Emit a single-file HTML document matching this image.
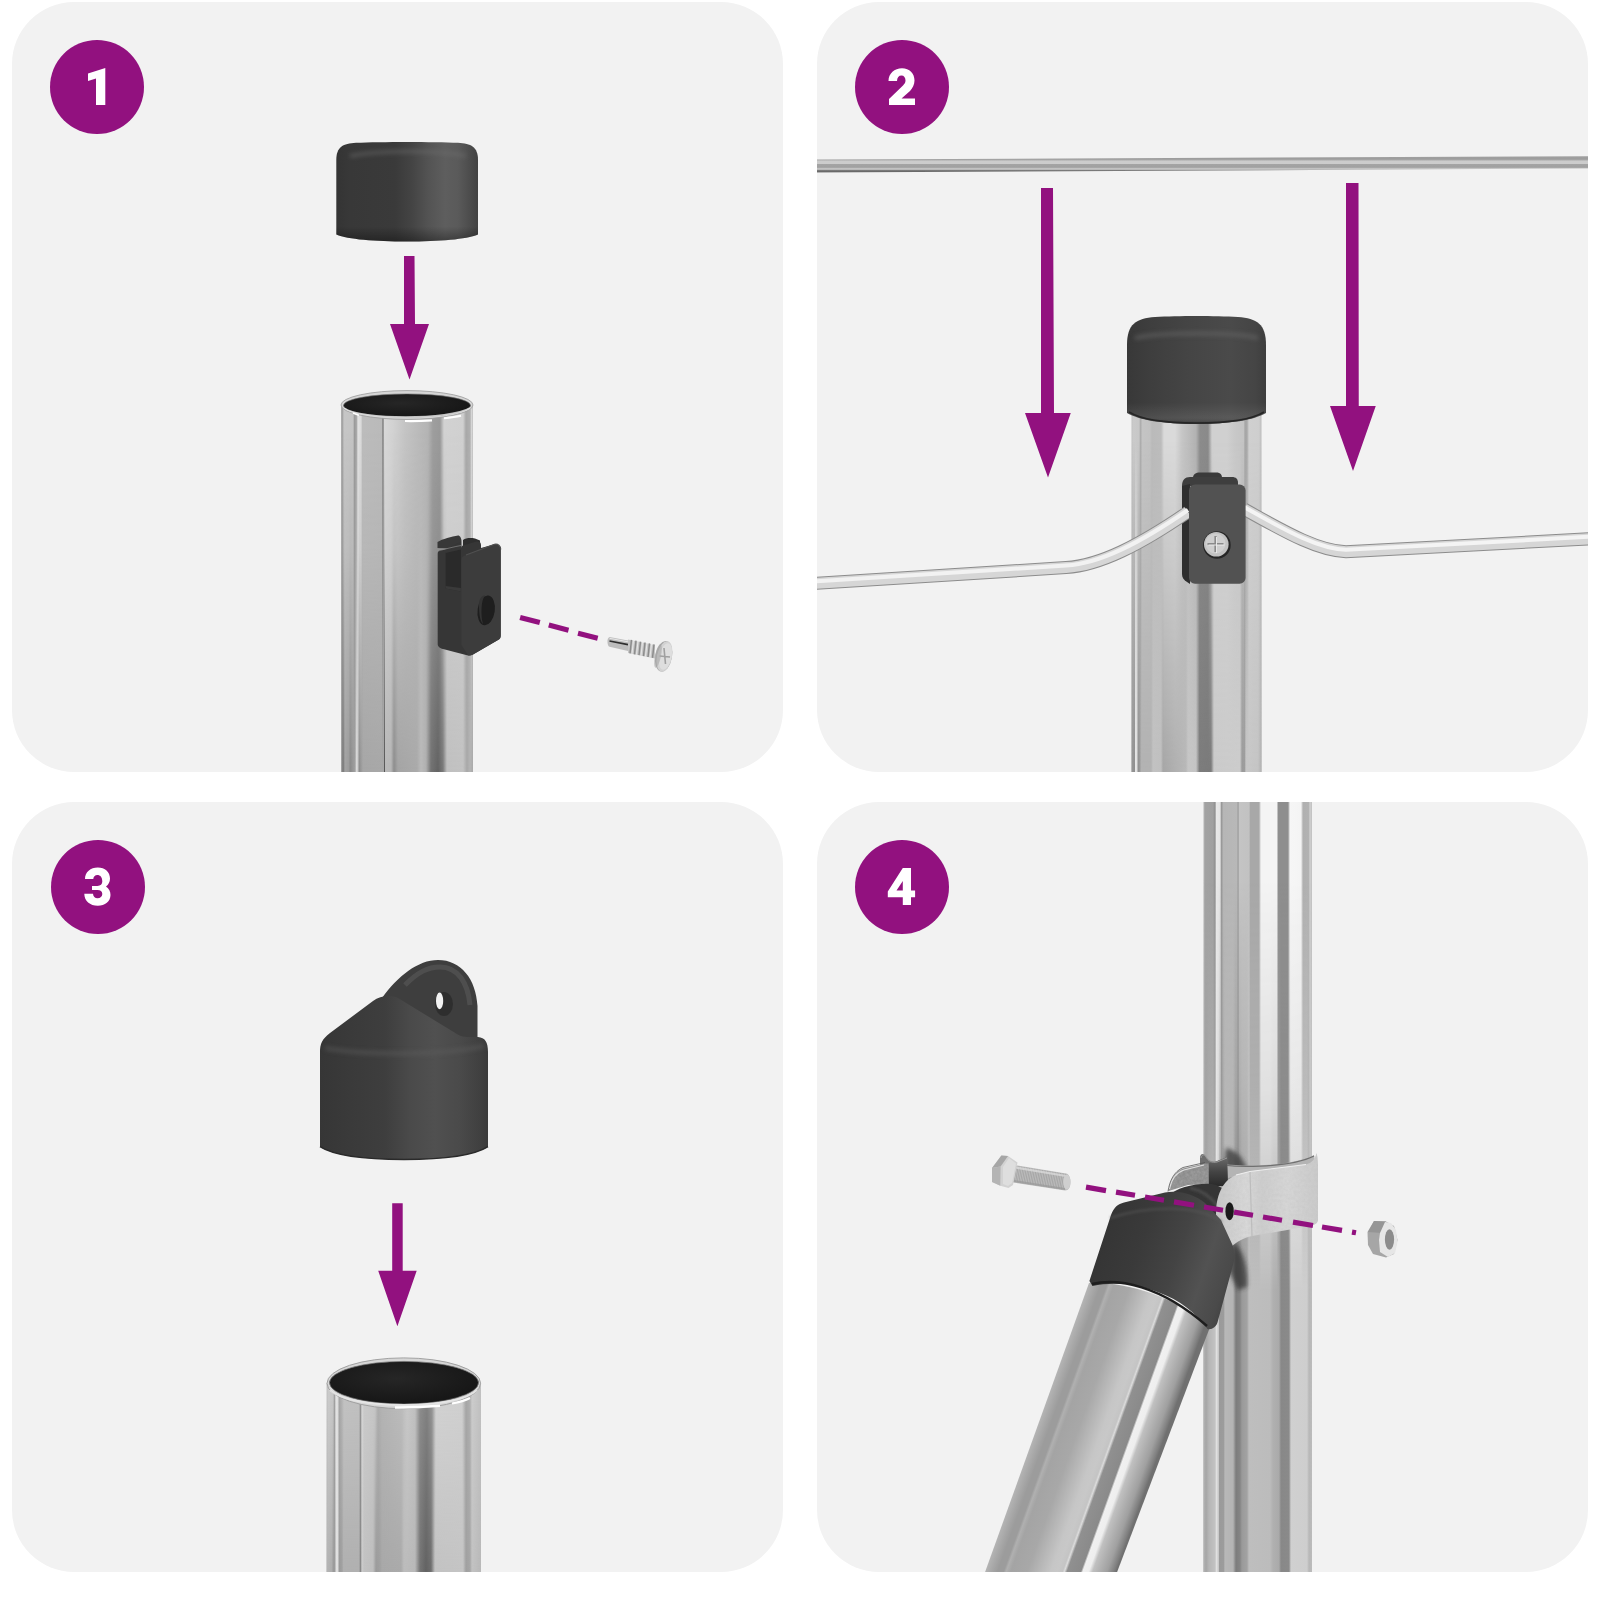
<!DOCTYPE html>
<html><head><meta charset="utf-8"><title>Assembly steps</title>
<style>
html,body{margin:0;padding:0;background:#ffffff;}
body{width:1600px;height:1600px;overflow:hidden;font-family:"Liberation Sans",sans-serif;}
svg{display:block;}
</style></head>
<body>
<svg width="1600" height="1600" viewBox="0 0 1600 1600">
<defs>
  <clipPath id="cp1"><rect x="12" y="2" width="771" height="770" rx="62" ry="62"/></clipPath>
  <clipPath id="cp2"><rect x="817" y="2" width="771" height="770" rx="62" ry="62"/></clipPath>
  <clipPath id="cp3"><rect x="12" y="802" width="771" height="770" rx="62" ry="62"/></clipPath>
  <clipPath id="cp4"><rect x="817" y="802" width="771" height="770" rx="62" ry="62"/></clipPath>
  <filter id="blur05" filterUnits="userSpaceOnUse" x="0" y="0" width="1600" height="1600"><feGaussianBlur stdDeviation="0.5"/></filter>
  <filter id="blur1" filterUnits="userSpaceOnUse" x="0" y="0" width="1600" height="1600"><feGaussianBlur stdDeviation="1"/></filter>
  <filter id="blur2" filterUnits="userSpaceOnUse" x="0" y="0" width="1600" height="1600"><feGaussianBlur stdDeviation="2"/></filter>
  <filter id="blur4" filterUnits="userSpaceOnUse" x="0" y="0" width="1600" height="1600"><feGaussianBlur stdDeviation="4"/></filter>
<linearGradient id="p1top" gradientUnits="userSpaceOnUse" x1="341" y1="0" x2="473" y2="0" ><stop offset="0.0000" stop-color="#b0b0b0"/><stop offset="0.0114" stop-color="#a4a4a4"/><stop offset="0.0227" stop-color="#c6c6c6"/><stop offset="0.0909" stop-color="#c4c4c4"/><stop offset="0.1023" stop-color="#9a9a9a"/><stop offset="0.1174" stop-color="#a8a8a8"/><stop offset="0.1288" stop-color="#e2e2e2"/><stop offset="0.1515" stop-color="#dadada"/><stop offset="0.1629" stop-color="#bcbcbc"/><stop offset="0.3068" stop-color="#bababa"/><stop offset="0.3182" stop-color="#7a7a7a"/><stop offset="0.3295" stop-color="#d8d8d8"/><stop offset="0.3939" stop-color="#d2d2d2"/><stop offset="0.4848" stop-color="#c4c4c4"/><stop offset="0.6591" stop-color="#b4b4b4"/><stop offset="0.6970" stop-color="#9e9e9e"/><stop offset="0.7500" stop-color="#9a9a9a"/><stop offset="0.7803" stop-color="#d2d2d2"/><stop offset="0.9242" stop-color="#d0d0d0"/><stop offset="0.9470" stop-color="#a8a8a8"/><stop offset="0.9773" stop-color="#b0b0b0"/><stop offset="0.9886" stop-color="#d6d6d6"/><stop offset="1.0000" stop-color="#c0c0c0"/></linearGradient>
<linearGradient id="p1bot" gradientUnits="userSpaceOnUse" x1="341" y1="0" x2="473" y2="0" ><stop offset="0.0000" stop-color="#b0b0b0"/><stop offset="0.0152" stop-color="#727272"/><stop offset="0.0303" stop-color="#a2a2a2"/><stop offset="0.0606" stop-color="#9a9a9a"/><stop offset="0.0682" stop-color="#888888"/><stop offset="0.1061" stop-color="#a0a0a0"/><stop offset="0.1174" stop-color="#dadada"/><stop offset="0.1288" stop-color="#c8c8c8"/><stop offset="0.1364" stop-color="#8a8a8a"/><stop offset="0.1667" stop-color="#a6a6a6"/><stop offset="0.3220" stop-color="#a8a8a8"/><stop offset="0.3295" stop-color="#555555"/><stop offset="0.3371" stop-color="#b8b8b8"/><stop offset="0.3788" stop-color="#b6b6b6"/><stop offset="0.4015" stop-color="#8c8c8c"/><stop offset="0.4318" stop-color="#a4a4a4"/><stop offset="0.5758" stop-color="#aaaaaa"/><stop offset="0.6061" stop-color="#bababa"/><stop offset="0.6439" stop-color="#b0b0b0"/><stop offset="0.6818" stop-color="#727272"/><stop offset="0.7348" stop-color="#636363"/><stop offset="0.7727" stop-color="#7a7a7a"/><stop offset="0.8030" stop-color="#c0c0c0"/><stop offset="0.9242" stop-color="#c2c2c2"/><stop offset="0.9545" stop-color="#a8a8a8"/><stop offset="0.9773" stop-color="#b4b4b4"/><stop offset="1.0000" stop-color="#a8a8a8"/></linearGradient>
<linearGradient id="p2" gradientUnits="userSpaceOnUse" x1="1131.5" y1="0" x2="1261.5" y2="0" ><stop offset="0.0000" stop-color="#969696"/><stop offset="0.0231" stop-color="#8e8e8e"/><stop offset="0.0308" stop-color="#e6e6e6"/><stop offset="0.0423" stop-color="#e0e0e0"/><stop offset="0.0500" stop-color="#8e8e8e"/><stop offset="0.0654" stop-color="#9a9a9a"/><stop offset="0.0731" stop-color="#b2b2b2"/><stop offset="0.1500" stop-color="#b2b2b2"/><stop offset="0.1654" stop-color="#c2c2c2"/><stop offset="0.2269" stop-color="#c0c0c0"/><stop offset="0.2423" stop-color="#a6a6a6"/><stop offset="0.4192" stop-color="#b8b8b8"/><stop offset="0.4346" stop-color="#c6c6c6"/><stop offset="0.4962" stop-color="#c4c4c4"/><stop offset="0.5231" stop-color="#7c7c7c"/><stop offset="0.6115" stop-color="#7a7a7a"/><stop offset="0.6346" stop-color="#cacaca"/><stop offset="0.8346" stop-color="#cccccc"/><stop offset="0.8500" stop-color="#9a9a9a"/><stop offset="0.8692" stop-color="#9c9c9c"/><stop offset="0.8808" stop-color="#c8c8c8"/><stop offset="0.9731" stop-color="#c4c4c4"/><stop offset="1.0000" stop-color="#b0b0b0"/></linearGradient>
<linearGradient id="p3" gradientUnits="userSpaceOnUse" x1="326.6" y1="0" x2="481" y2="0" ><stop offset="0.0000" stop-color="#b4b4b4"/><stop offset="0.0350" stop-color="#adadad"/><stop offset="0.0415" stop-color="#999999"/><stop offset="0.0544" stop-color="#9c9c9c"/><stop offset="0.0609" stop-color="#e0e0e0"/><stop offset="0.0738" stop-color="#dedede"/><stop offset="0.0803" stop-color="#999999"/><stop offset="0.0997" stop-color="#a0a0a0"/><stop offset="0.1095" stop-color="#b0b0b0"/><stop offset="0.2098" stop-color="#b0b0b0"/><stop offset="0.2196" stop-color="#888888"/><stop offset="0.2293" stop-color="#cccccc"/><stop offset="0.2422" stop-color="#c2c2c2"/><stop offset="0.3005" stop-color="#bebebe"/><stop offset="0.3199" stop-color="#9a9a9a"/><stop offset="0.3459" stop-color="#a0a0a0"/><stop offset="0.3588" stop-color="#a8a8a8"/><stop offset="0.4819" stop-color="#aaaaaa"/><stop offset="0.5013" stop-color="#bcbcbc"/><stop offset="0.5725" stop-color="#b8b8b8"/><stop offset="0.6049" stop-color="#747474"/><stop offset="0.6438" stop-color="#626262"/><stop offset="0.6762" stop-color="#6e6e6e"/><stop offset="0.7021" stop-color="#c2c2c2"/><stop offset="0.8834" stop-color="#c4c4c4"/><stop offset="0.9028" stop-color="#a0a0a0"/><stop offset="0.9288" stop-color="#a6a6a6"/><stop offset="0.9417" stop-color="#c2c2c2"/><stop offset="1.0000" stop-color="#b8b8b8"/></linearGradient>
<linearGradient id="p4top" gradientUnits="userSpaceOnUse" x1="1203.5" y1="0" x2="1312" y2="0" ><stop offset="0.0000" stop-color="#b4b4b4"/><stop offset="0.0184" stop-color="#a2a2a2"/><stop offset="0.0876" stop-color="#a0a0a0"/><stop offset="0.1060" stop-color="#909090"/><stop offset="0.1198" stop-color="#e8e8e8"/><stop offset="0.1521" stop-color="#e4e4e4"/><stop offset="0.1659" stop-color="#999999"/><stop offset="0.1843" stop-color="#b6b6b6"/><stop offset="0.3088" stop-color="#b8b8b8"/><stop offset="0.3180" stop-color="#9a9a9a"/><stop offset="0.3318" stop-color="#c4c4c4"/><stop offset="0.4194" stop-color="#c2c2c2"/><stop offset="0.4332" stop-color="#a8a8a8"/><stop offset="0.5115" stop-color="#a8a8a8"/><stop offset="0.5300" stop-color="#f4f4f4"/><stop offset="0.6728" stop-color="#f4f4f4"/><stop offset="0.6912" stop-color="#8e8e8e"/><stop offset="0.7788" stop-color="#8e8e8e"/><stop offset="0.7972" stop-color="#f6f6f6"/><stop offset="0.8986" stop-color="#f4f4f4"/><stop offset="0.9171" stop-color="#b0b0b0"/><stop offset="0.9677" stop-color="#b2b2b2"/><stop offset="0.9816" stop-color="#d0d0d0"/><stop offset="1.0000" stop-color="#c0c0c0"/></linearGradient>
<linearGradient id="p4bot" gradientUnits="userSpaceOnUse" x1="1204.4" y1="0" x2="1312.2" y2="0" ><stop offset="0.0000" stop-color="#b0b0b0"/><stop offset="0.0148" stop-color="#a6a6a6"/><stop offset="0.0427" stop-color="#b6b6b6"/><stop offset="0.0983" stop-color="#c2c2c2"/><stop offset="0.1122" stop-color="#e0e0e0"/><stop offset="0.1308" stop-color="#c8c8c8"/><stop offset="0.1401" stop-color="#9a9a9a"/><stop offset="0.1772" stop-color="#9c9c9c"/><stop offset="0.1911" stop-color="#b8b8b8"/><stop offset="0.2653" stop-color="#b4b4b4"/><stop offset="0.2931" stop-color="#7c7c7c"/><stop offset="0.3302" stop-color="#858585"/><stop offset="0.3488" stop-color="#9a9a9a"/><stop offset="0.3952" stop-color="#a2a2a2"/><stop offset="0.4137" stop-color="#bebebe"/><stop offset="0.6085" stop-color="#bcbcbc"/><stop offset="0.6364" stop-color="#b0b0b0"/><stop offset="0.6920" stop-color="#aaaaaa"/><stop offset="0.7106" stop-color="#888888"/><stop offset="0.7848" stop-color="#8a8a8a"/><stop offset="0.8033" stop-color="#d0d0d0"/><stop offset="0.9518" stop-color="#cecece"/><stop offset="0.9703" stop-color="#b8b8b8"/><stop offset="1.0000" stop-color="#bcbcbc"/></linearGradient>
<linearGradient id="vmask1" gradientUnits="userSpaceOnUse" x1="0" y1="430" x2="0" y2="772"><stop offset="0" stop-color="#000"/><stop offset="0.35" stop-color="#333"/><stop offset="1" stop-color="#fff"/></linearGradient>
<mask id="m1" maskUnits="userSpaceOnUse" x="330" y="380" width="160" height="400"><rect x="330" y="380" width="160" height="400" fill="url(#vmask1)"/></mask>
<linearGradient id="vmask4" gradientUnits="userSpaceOnUse" x1="0" y1="880" x2="0" y2="1290"><stop offset="0" stop-color="#000"/><stop offset="0.5" stop-color="#555"/><stop offset="1" stop-color="#fff"/></linearGradient>
<mask id="m4" maskUnits="userSpaceOnUse" x="1190" y="800" width="140" height="780"><rect x="1190" y="800" width="140" height="780" fill="url(#vmask4)"/></mask>
<linearGradient id="cap1" gradientUnits="userSpaceOnUse" x1="336" y1="0" x2="478" y2="0" ><stop offset="0.0000" stop-color="#343434"/><stop offset="0.0986" stop-color="#383838"/><stop offset="0.4155" stop-color="#3a3a3a"/><stop offset="0.5352" stop-color="#444444"/><stop offset="0.6479" stop-color="#535353"/><stop offset="0.7676" stop-color="#5e5e5e"/><stop offset="0.8592" stop-color="#5a5a5a"/><stop offset="0.9437" stop-color="#4c4c4c"/><stop offset="1.0000" stop-color="#424242"/></linearGradient>
<linearGradient id="cap2" gradientUnits="userSpaceOnUse" x1="1127" y1="0" x2="1266" y2="0" ><stop offset="0.0000" stop-color="#383838"/><stop offset="0.1655" stop-color="#3e3e3e"/><stop offset="0.4532" stop-color="#454545"/><stop offset="0.7410" stop-color="#4a4a4a"/><stop offset="0.9209" stop-color="#454545"/><stop offset="1.0000" stop-color="#3e3e3e"/></linearGradient>
<linearGradient id="cap3" gradientUnits="userSpaceOnUse" x1="320" y1="0" x2="488" y2="0" ><stop offset="0.0000" stop-color="#363636"/><stop offset="0.1786" stop-color="#3a3a3a"/><stop offset="0.3869" stop-color="#3e3e3e"/><stop offset="0.5357" stop-color="#4a4a4a"/><stop offset="0.6845" stop-color="#505050"/><stop offset="0.8333" stop-color="#4a4a4a"/><stop offset="0.9524" stop-color="#404040"/><stop offset="1.0000" stop-color="#3a3a3a"/></linearGradient>
<linearGradient id="capshade" x1="0" y1="0" x2="0" y2="1"><stop offset="0" stop-color="#000" stop-opacity="0"/><stop offset="0.85" stop-color="#000" stop-opacity="0"/><stop offset="1" stop-color="#000" stop-opacity="0.35"/></linearGradient>
<linearGradient id="wire" x1="0" y1="0" x2="0" y2="1"><stop offset="0" stop-color="#a0a0a0"/><stop offset="0.18" stop-color="#9c9c9c"/><stop offset="0.3" stop-color="#cccccc"/><stop offset="0.45" stop-color="#cccccc"/><stop offset="0.5" stop-color="#a4a4a4"/><stop offset="0.68" stop-color="#a0a0a0"/><stop offset="0.74" stop-color="#c4c4c4"/><stop offset="0.82" stop-color="#b8b8b8"/><stop offset="0.9" stop-color="#606060"/><stop offset="1" stop-color="#7a7a7a"/></linearGradient>
<linearGradient id="pdiag" gradientUnits="userSpaceOnUse" x1="985" y1="1572" x2="1101" y2="1613.8"><stop offset="0" stop-color="#b4b4b4"/><stop offset="0.054" stop-color="#a6a6a6"/><stop offset="0.094" stop-color="#9c9c9c"/><stop offset="0.14" stop-color="#9c9c9c"/><stop offset="0.16" stop-color="#b0b0b0"/><stop offset="0.195" stop-color="#a4a4a4"/><stop offset="0.32" stop-color="#a8a8a8"/><stop offset="0.5" stop-color="#c6c6c6"/><stop offset="0.55" stop-color="#c8c8c8"/><stop offset="0.59" stop-color="#c4c4c4"/><stop offset="0.605" stop-color="#dcdcdc"/><stop offset="0.625" stop-color="#909090"/><stop offset="0.73" stop-color="#8a8a8a"/><stop offset="0.745" stop-color="#f0f0f0"/><stop offset="0.79" stop-color="#eeeeee"/><stop offset="0.82" stop-color="#c0c0c0"/><stop offset="0.93" stop-color="#a0a0a0"/><stop offset="0.98" stop-color="#808080"/><stop offset="1" stop-color="#707070"/></linearGradient>
<linearGradient id="cap4" gradientUnits="userSpaceOnUse" x1="1090" y1="1250" x2="1235" y2="1300"><stop offset="0" stop-color="#343434"/><stop offset="0.3" stop-color="#3a3a3a"/><stop offset="0.55" stop-color="#444444"/><stop offset="0.75" stop-color="#525252"/><stop offset="0.9" stop-color="#4a4a4a"/><stop offset="1" stop-color="#3c3c3c"/></linearGradient>
<linearGradient id="clampg" x1="0" y1="0" x2="1" y2="0"><stop offset="0" stop-color="#c8c8c8"/><stop offset="0.3" stop-color="#d8d8d8"/><stop offset="0.45" stop-color="#cdcdcd"/><stop offset="0.7" stop-color="#d6d6d6"/><stop offset="1" stop-color="#cacaca"/></linearGradient>
<filter id="noise" x="0" y="0" width="100%" height="100%"><feTurbulence type="fractalNoise" baseFrequency="0.35" numOctaves="2" seed="3"/><feColorMatrix type="matrix" values="0 0 0 0 0.5  0 0 0 0 0.5  0 0 0 0 0.5  0 0 0 -1.2 0.9"/><feComposite in2="SourceGraphic" operator="in"/></filter>
<linearGradient id="p2top" gradientUnits="userSpaceOnUse" x1="1131.5" y1="0" x2="1261.5" y2="0" ><stop offset="0.0000" stop-color="#c0c0c0"/><stop offset="0.0115" stop-color="#cacaca"/><stop offset="0.0577" stop-color="#c8c8c8"/><stop offset="0.0692" stop-color="#adadad"/><stop offset="0.0846" stop-color="#c4c4c4"/><stop offset="0.1423" stop-color="#c2c2c2"/><stop offset="0.1577" stop-color="#bababa"/><stop offset="0.2269" stop-color="#bcbcbc"/><stop offset="0.2500" stop-color="#dadada"/><stop offset="0.3346" stop-color="#dadada"/><stop offset="0.3885" stop-color="#c6c6c6"/><stop offset="0.4962" stop-color="#b2b2b2"/><stop offset="0.5269" stop-color="#8c8c8c"/><stop offset="0.5885" stop-color="#8a8a8a"/><stop offset="0.6192" stop-color="#d0d0d0"/><stop offset="0.7346" stop-color="#d0d0d0"/><stop offset="0.7962" stop-color="#c8c8c8"/><stop offset="0.8615" stop-color="#c4c4c4"/><stop offset="0.8731" stop-color="#a6a6a6"/><stop offset="0.8885" stop-color="#a8a8a8"/><stop offset="0.9038" stop-color="#d0d0d0"/><stop offset="0.9808" stop-color="#cecece"/><stop offset="1.0000" stop-color="#bcbcbc"/></linearGradient>
<linearGradient id="vmask2" gradientUnits="userSpaceOnUse" x1="0" y1="440" x2="0" y2="772"><stop offset="0" stop-color="#000"/><stop offset="1" stop-color="#fff"/></linearGradient>
<mask id="m2" maskUnits="userSpaceOnUse" x="1120" y="380" width="160" height="400"><rect x="1120" y="380" width="160" height="400" fill="url(#vmask2)"/></mask>
<linearGradient id="cap2v" x1="0" y1="0" x2="0" y2="1"><stop offset="0" stop-color="#000" stop-opacity="0"/><stop offset="0.8" stop-color="#fff" stop-opacity="0"/><stop offset="0.93" stop-color="#fff" stop-opacity="0.08"/><stop offset="1" stop-color="#000" stop-opacity="0.25"/></linearGradient>
<linearGradient id="p3top" gradientUnits="userSpaceOnUse" x1="326.6" y1="0" x2="481" y2="0" ><stop offset="0.0000" stop-color="#b8b8b8"/><stop offset="0.0091" stop-color="#cacaca"/><stop offset="0.0415" stop-color="#c6c6c6"/><stop offset="0.0512" stop-color="#a0a0a0"/><stop offset="0.0609" stop-color="#e4e4e4"/><stop offset="0.0738" stop-color="#dcdcdc"/><stop offset="0.0803" stop-color="#a4a4a4"/><stop offset="0.0997" stop-color="#b4b4b4"/><stop offset="0.1127" stop-color="#c2c2c2"/><stop offset="0.2098" stop-color="#c0c0c0"/><stop offset="0.2196" stop-color="#949494"/><stop offset="0.2293" stop-color="#d8d8d8"/><stop offset="0.2422" stop-color="#cacaca"/><stop offset="0.3135" stop-color="#c6c6c6"/><stop offset="0.3329" stop-color="#adadad"/><stop offset="0.3588" stop-color="#b4b4b4"/><stop offset="0.4883" stop-color="#bcbcbc"/><stop offset="0.5207" stop-color="#c8c8c8"/><stop offset="0.5725" stop-color="#c0c0c0"/><stop offset="0.6049" stop-color="#8e8e8e"/><stop offset="0.6503" stop-color="#828282"/><stop offset="0.6826" stop-color="#969696"/><stop offset="0.7085" stop-color="#d2d2d2"/><stop offset="0.8769" stop-color="#d0d0d0"/><stop offset="0.9028" stop-color="#a6a6a6"/><stop offset="0.9288" stop-color="#b0b0b0"/><stop offset="0.9417" stop-color="#cccccc"/><stop offset="1.0000" stop-color="#c0c0c0"/></linearGradient>
<linearGradient id="vmask3" gradientUnits="userSpaceOnUse" x1="0" y1="1400" x2="0" y2="1572"><stop offset="0" stop-color="#000"/><stop offset="1" stop-color="#fff"/></linearGradient>
<mask id="m3" maskUnits="userSpaceOnUse" x="320" y="1370" width="170" height="210"><rect x="320" y="1370" width="170" height="210" fill="url(#vmask3)"/></mask>
<radialGradient id="holeg" cx="0.45" cy="0.4" r="0.6"><stop offset="0" stop-color="#262626"/><stop offset="1" stop-color="#161616"/></radialGradient>
<linearGradient id="innerg" x1="0" y1="0" x2="0" y2="1"><stop offset="0" stop-color="#6a6a6a"/><stop offset="0.5" stop-color="#444"/><stop offset="1" stop-color="#2a2a2a"/></linearGradient>
</defs>
<rect width="1600" height="1600" fill="#ffffff"/>
<rect x="12" y="2" width="771" height="770" rx="62" ry="62" fill="#f2f2f2"/>
<rect x="817" y="2" width="771" height="770" rx="62" ry="62" fill="#f2f2f2"/>
<rect x="12" y="802" width="771" height="770" rx="62" ry="62" fill="#f2f2f2"/>
<rect x="817" y="802" width="771" height="770" rx="62" ry="62" fill="#f2f2f2"/>

<g id="panel1">
  <!-- cap -->
  <path d="M336.3,160 C336.3,147 343,143.5 356,142.8 C380,141.6 434,141.6 458,142.8 C471,143.5 478,147 478,160 L478,234.6 C466,239.5 440,241.6 407,241.6 C374,241.6 348,239.5 336.3,234.6 Z" fill="url(#cap1)"/>
  <path d="M336.3,160 C336.3,147 343,143.5 356,142.8 C380,141.6 434,141.6 458,142.8 C471,143.5 478,147 478,160 L478,234.6 C466,239.5 440,241.6 407,241.6 C374,241.6 348,239.5 336.3,234.6 Z" fill="url(#capshade)"/>
  <path d="M350,156 C380,150 440,150 466,156" fill="none" stroke="#707070" stroke-width="4" opacity="0.45" filter="url(#blur2)"/>
  <!-- arrow -->
  <path d="M404,256 L414.5,256 L415,324 L429,324 L409.5,379.5 L390,324 L404,324 Z" fill="#92117f"/>
  <!-- pipe -->
  <g clip-path="url(#cp1)">
    <rect x="341" y="405" width="132" height="370" fill="url(#p1top)"/>
    <rect x="341" y="405" width="132" height="370" fill="url(#p1bot)" mask="url(#m1)"/>
  </g>
  <ellipse cx="407" cy="405" rx="66" ry="14.4" fill="#d6d6d6" stroke="#9a9a9a" stroke-width="0.8"/>
  <ellipse cx="407" cy="405.5" rx="63.5" ry="11.6" fill="url(#holeg)" stroke="#707070" stroke-width="0.6"/>
  <path d="M344,408 C360,420 450,420 470,408" fill="none" stroke="#e6e6e6" stroke-width="1.5" opacity="0.8"/>
  <path d="M405,421 C415,421.2 425,420.8 432,420.3" fill="none" stroke="#ffffff" stroke-width="2.2"/>
  <path d="M444,418.3 C450,417.6 456,416.8 461,415.8" fill="none" stroke="#ffffff" stroke-width="2"/>
  <path d="M353,413 C355,414 357,414.6 359,415.2" fill="none" stroke="#ffffff" stroke-width="1.6"/>
</g>

<g id="clip1">
  <!-- saddle top -->
  <path d="M437.5,548 L437.5,542 C442,539 452,536.5 458,535.5 C460,535.5 461.5,538 461.5,542 L461.5,550 Z" fill="#383838"/>
  <path d="M463,548 L463,540 C466,538 470,537.5 475,538.5 L480,540.5 L480,550 Z" fill="#2e2e2e"/>
  <!-- body -->
  <path d="M440,550 C438.5,550.5 437.7,552 437.7,554 L437.7,644 C437.7,646.5 440,648.5 443,649 L467,655.3 C469,655.8 471,655.6 473,654.6 L498,640 C500,639 500.7,637.5 500.7,635.5 L500.7,549.5 C500.7,546 498,543.5 494.5,544.3 L481,548 L481,545 C481,542 479,541 476.5,541.5 L463,545.5 C461.5,546 461,547 461,548.5 L461,541.5 L446,549 Z" fill="#363636"/>
  <!-- front face slightly lighter -->
  <path d="M461.5,560 C461.5,557 463,556 466,555 L494.5,544.3 C498,543.5 500.7,546 500.7,549.5 L500.7,635.5 C500.7,637.5 500,639 498,640 L473,654.6 C471,655.6 469.5,655.6 468,655.3 L466,652 L461.5,645 Z" fill="#3c3c3c"/>
  <path d="M466,555 L494.5,544.3 C498,543.5 500.7,546 500.7,549.5" fill="none" stroke="#505050" stroke-width="1.2"/>
  <!-- notch channel -->
  <path d="M445.6,553 L460.9,549.5 L460.9,591.5 L445.6,588.5 Z" fill="#2a2a2a"/>
  <path d="M445.6,586 L460.9,588 L460.9,591.5 L445.6,588.5 Z" fill="#3a3a3a"/>
  <path d="M438,551 C445,549 455,546.5 461,545.5" fill="none" stroke="#9a9a9a" stroke-width="0.8" opacity="0.7"/>
  <!-- hole -->
  <ellipse cx="486.2" cy="610.3" rx="8.6" ry="15" transform="rotate(8 486.2 610.3)" fill="#1e1e1e"/>
  <path d="M479,605 C479,598 482,595.5 485,595.5 C481,600 480.5,615 483,624 C480,621 479,614 479,605 Z" fill="#333"/>
</g>
<!-- dashes -->
<g stroke="#92117f" stroke-width="5.2" stroke-linecap="butt">
  <line x1="520.1" y1="617.4" x2="539.8" y2="622.5"/>
  <line x1="548.8" y1="625.1" x2="568.5" y2="630.2"/>
  <line x1="578" y1="633.3" x2="597.7" y2="638.2"/>
</g>
<!-- screw -->
<g id="screw1">
  <path d="M609.5,637 L628,640.5 L628,651 L609.5,646.8 C607,646 606.5,638 609.5,637 Z" fill="#bdbdbd"/>
  <path d="M609.5,641 L628,644.6" stroke="#2e2e2e" stroke-width="1.6"/>
  <path d="M609.5,638.3 L628,641.8" stroke="#e6e6e6" stroke-width="1"/>
  <path d="M628,639.4 L655,645 L655,658.5 L628,652.9 Z" fill="#c6c6c6"/>
  <g stroke="#8c8c8c" stroke-width="1.5">
    <line x1="631.5" y1="639.8" x2="630" y2="653.4"/>
    <line x1="636" y1="640.7" x2="634.5" y2="654.3"/>
    <line x1="640.5" y1="641.6" x2="639" y2="655.2"/>
    <line x1="645" y1="642.5" x2="643.5" y2="656.1"/>
    <line x1="649.5" y1="643.4" x2="648" y2="657"/>
    <line x1="654" y1="644.3" x2="652.5" y2="657.9"/>
  </g>
  <g stroke="#ececec" stroke-width="0.9">
    <line x1="633.5" y1="640.2" x2="632" y2="653.8"/>
    <line x1="638" y1="641.1" x2="636.5" y2="654.7"/>
    <line x1="642.5" y1="642" x2="641" y2="655.6"/>
    <line x1="647" y1="642.9" x2="645.5" y2="656.5"/>
    <line x1="651.5" y1="643.8" x2="650" y2="657.4"/>
  </g>
  <ellipse cx="663.6" cy="656.3" rx="8.4" ry="15.5" transform="rotate(10 663.6 656.3)" fill="#a8a8a8"/>
  <ellipse cx="664.6" cy="656.3" rx="7" ry="14" transform="rotate(10 664.6 656.3)" fill="#d6d6d6"/>
  <path d="M664.7,647 L665.8,667.5 M660.7,657.4 L669.2,655.1" stroke="#8e8e8e" stroke-width="1.8"/>
  <path d="M665.6,647.5 L666.6,667 M661,658.4 L669.5,656.1" stroke="#f0f0f0" stroke-width="0.7"/>
</g>
  <ellipse cx="664.5" cy="656.5" rx="7.5" ry="15.5" transform="rotate(12 664.5 656.5)" fill="#d2d2d2"/>
  <ellipse cx="665.5" cy="656.5" rx="6" ry="13.5" transform="rotate(12 665.5 656.5)" fill="#dedede"/>
  <path d="M664,648 L665.5,664 M659.5,656 L670,657" stroke="#a0a0a0" stroke-width="1.6"/>
  <ellipse cx="658" cy="656" rx="3" ry="12" transform="rotate(12 658 656)" fill="#a8a8a8" opacity="0.6"/>
</g>

<g id="panel2">
  <!-- top wire -->
  <path d="M817,159.5 L1588,156.3 L1588,168.5 L817,172.5 Z" fill="url(#wire)"/>
  <!-- arrows -->
  <path d="M1041,188 L1053,188 L1054,413 L1070.75,413 L1048,477.5 L1025,413 L1041,413 Z" fill="#92117f"/>
  <path d="M1346,183 L1358.5,183 L1358.75,406 L1375.75,406 L1353,471 L1330,406 L1346,406 Z" fill="#92117f"/>
  <!-- pipe -->
  <g clip-path="url(#cp2)">
    <rect x="1131.5" y="400" width="130" height="375" fill="url(#p2top)"/>
    <rect x="1131.5" y="400" width="130" height="375" fill="url(#p2)" mask="url(#m2)"/>
  </g>
  <!-- cap -->
  <path d="M1127,345 C1127,324 1136,318.5 1155,317 C1178,315.6 1215,315.6 1238,317 C1257,318.5 1266,324 1266,345 L1266,413 C1254,420 1230,424 1196.5,424 C1163,424 1139,420 1127,413 Z" fill="url(#cap2)"/>
  <path d="M1127,345 C1127,324 1136,318.5 1155,317 C1178,315.6 1215,315.6 1238,317 C1257,318.5 1266,324 1266,345 L1266,413 C1254,420 1230,424 1196.5,424 C1163,424 1139,420 1127,413 Z" fill="url(#cap2v)"/>
  <path d="M1135,338 C1160,332 1235,332 1258,338" fill="none" stroke="#6a6a6a" stroke-width="4" opacity="0.55" filter="url(#blur2)"/>
  <path d="M1129,412 C1141,419.5 1164,423 1196.5,423 C1229,423 1252,419.5 1264,412" fill="none" stroke="#262626" stroke-width="1.5"/>
  <!-- clip 2 back -->
  <path d="M1193,478 C1193,474 1196,472.5 1200,472.5 L1216,472.5 C1221,472.5 1222,475 1222,478 Z" fill="#3a3a3a"/>
  <path d="M1182,486 C1182,480 1185,477 1190,477 L1232,477 C1236,477 1238,479 1238,483 L1238,486 Z" fill="#3e3e3e"/>
  <path d="M1182,486 L1190,484 L1190,584 L1187,582 C1184,580 1182,578 1182,574 Z" fill="#2e2e2e"/>
  <!-- lower wires -->
  <g clip-path="url(#cp2)" fill="none" stroke-linecap="butt">
    <path d="M810,583.7 L1066,567.6 C1100,565.5 1140,545 1188,512" stroke="#8c8c8c" stroke-width="13"/>
    <path d="M810,583.7 L1066,567.6 C1100,565.5 1140,545 1188,512" stroke="#d6d6d6" stroke-width="11"/>
    <path d="M810,581.7 L1066,565.6 C1100,563.5 1140,543 1188,510" stroke="#f2f2f2" stroke-width="4"/>
    <path d="M1244,509 C1290,535 1320,551 1346,551.7 L1595,538.5" stroke="#8c8c8c" stroke-width="13"/>
    <path d="M1244,509 C1290,535 1320,551 1346,551.7 L1595,538.5" stroke="#d6d6d6" stroke-width="11"/>
    <path d="M1244,507 C1290,533 1320,549 1346,549.7 L1595,536.5" stroke="#f4f4f4" stroke-width="4"/>
  </g>
  <!-- clip 2 -->
  <rect x="1189" y="484.5" width="56.6" height="99.3" rx="6" ry="6" fill="#525252"/>
  <circle cx="1216.9" cy="545" r="13.8" fill="#262626"/>
  <circle cx="1216.3" cy="544.3" r="12.3" fill="#c2c2c2"/>
  <circle cx="1215.5" cy="543.5" r="10" fill="#cfcfcf"/>
  <path d="M1215.5,536 L1215.5,552 M1207.5,544 L1223.5,544" stroke="#8a8a8a" stroke-width="2.2"/>
  <path d="M1216.5,537 L1216.5,553 M1208.5,545 L1224.5,545" stroke="#eeeeee" stroke-width="0.9"/>
</g>

<g id="panel3">
  <!-- eyelet -->
  <path d="M382,998 C398,976 418,960 438,960 C461,960 476,979 477.5,1006 L477.5,1040 L460,1040 L395,1000 Z" fill="#3e3e3e"/>
  <path d="M405,985 C418,972 428,967 440,967 C458,967 468,983 470,1005" fill="none" stroke="#5a5a5a" stroke-width="5" opacity="0.6"/>
  <ellipse cx="444" cy="1004" rx="9" ry="12" fill="#2a2a2a" opacity="0.8"/>
  <ellipse cx="439.6" cy="1000.9" rx="3.6" ry="8.3" fill="#f2f2f2"/>
  <!-- dome + body -->
  <path d="M320,1052 C320,1044 322,1039 330,1033 L373,1001 C380,996 390,994.5 398,998 L452,1031 C457,1034 461,1037 467,1037 L478,1037 C485,1037.5 488,1042 488,1052 L488,1146.7 C475,1155 445,1159.5 404,1159.5 C363,1159.5 333,1155 320,1146.7 Z" fill="url(#cap3)"/>
  <path d="M320,1052 C320,1044 322,1039 330,1033 L373,1001 C380,996 390,994.5 398,998 L452,1031 C457,1034 461,1037 467,1037 L478,1037 C485,1037.5 488,1042 488,1052 L488,1146.7 C475,1155 445,1159.5 404,1159.5 C363,1159.5 333,1155 320,1146.7 Z" fill="none" stroke="#262626" stroke-width="0"/>
  <path d="M320,1146.7 C333,1155 363,1159.5 404,1159.5 C445,1159.5 475,1155 488,1146.7" fill="none" stroke="#2a2a2a" stroke-width="1.5"/>
  <path d="M325,1048 C360,1055 440,1056 484,1046" fill="none" stroke="#5e5e5e" stroke-width="4" opacity="0.5" filter="url(#blur2)"/>
  <!-- arrow -->
  <path d="M392.2,1203.2 L402.7,1203.2 L402.7,1270.7 L416.7,1270.7 L397.4,1326.2 L378.2,1270.7 L392.2,1270.7 Z" fill="#92117f"/>
  <!-- pipe -->
  <g clip-path="url(#cp3)">
    <rect x="326.6" y="1383" width="154.4" height="195" fill="url(#p3top)"/>
    <rect x="326.6" y="1383" width="154.4" height="195" fill="url(#p3)" mask="url(#m3)"/>
  </g>
  <ellipse cx="403.8" cy="1383.3" rx="76.8" ry="25.4" fill="#d6d6d6" stroke="#9a9a9a" stroke-width="0.9"/>
  <ellipse cx="404" cy="1382.7" rx="74.5" ry="21.3" fill="url(#holeg)" stroke="#707070" stroke-width="0.7"/>
  <path d="M330,1390 C350,1410 458,1410 477,1390" fill="none" stroke="#e8e8e8" stroke-width="1.8" opacity="0.8"/>
  <path d="M395,1407.5 C410,1407.6 425,1407 440,1405.8" fill="none" stroke="#ffffff" stroke-width="2.5" filter="url(#blur05)"/>
  <path d="M452,1403.5 C460,1402 466,1400 470,1398" fill="none" stroke="#ffffff" stroke-width="2" filter="url(#blur05)"/>
</g>

<g id="panel4">
  <!-- vertical pipe -->
  <g clip-path="url(#cp4)" filter="url(#blur05)">
    <rect x="1203.5" y="800" width="108.5" height="775" fill="url(#p4top)"/>
    <rect x="1203.5" y="800" width="108.5" height="775" fill="url(#p4bot)" mask="url(#m4)"/>
  </g>
  <!-- clamp back rim / tab -->
  <path d="M1226,1148 C1236,1150 1244,1158 1248,1172 L1230,1180 L1224,1165 Z" fill="#3c3c3c" opacity="0.8" filter="url(#blur2)"/>
  <path d="M1204,1160 C1225,1168 1290,1168 1314,1155 L1316,1168 L1210,1180 Z" fill="#b4b4b4"/>
  <path d="M1208,1162 C1230,1169 1290,1168 1314,1156" fill="none" stroke="#707070" stroke-width="1.3"/>
  <path d="M1200,1184 L1200,1158 C1200,1153.5 1203.5,1152.5 1205.5,1156 C1207.5,1160 1211,1162.5 1216,1161.5 L1227,1157 L1228,1186 Z" fill="#6e6e6e"/>
  <path d="M1209,1163 C1213,1163 1220,1160 1227,1157.5 L1228,1186 L1209,1186 Z" fill="url(#innerg)"/>
  <path d="M1201,1158 C1202,1154 1204.5,1154 1206,1157 C1208,1161 1212,1163 1217,1162 L1227,1158" fill="none" stroke="#9a9a9a" stroke-width="1"/>
  <path d="M1168.5,1191 C1170,1182 1174,1172 1183,1168.5 L1205,1163.5 L1208.5,1163.5 L1208.5,1184 L1188,1185 Z" fill="#8c8c8c"/>
  <path d="M1168.5,1191 C1170,1182 1174,1172 1183,1168.5 L1205,1163.5 L1208.5,1163.5 L1208.5,1184 L1188,1185 Z" fill="#666" filter="url(#noise)" opacity="0.5"/>
  <path d="M1169.5,1189 C1171,1181 1175,1173 1184,1170 L1204,1165" fill="none" stroke="#e0e0e0" stroke-width="1.1"/>
  <path d="M1168,1191.5 C1169.5,1181 1174,1171.5 1183,1167.5 L1205,1162.5" fill="none" stroke="#555" stroke-width="0.8"/>
  <!-- shadow on pipe right of cap -->
  <path d="M1230,1240 C1240,1245 1248,1260 1247,1287 L1238,1290 L1228,1270 Z" fill="#2a2a2a" opacity="0.7" filter="url(#blur2)"/>
  <!-- dark neck behind cap -->
  <path d="M1168,1196 C1176,1188 1195,1183 1212,1184 C1224,1186 1232,1196 1232,1210 L1230,1232 L1200,1205 Z" fill="#353535"/>
  <path d="M1190,1188 C1200,1190 1210,1196 1218,1206" fill="none" stroke="#4a4a4a" stroke-width="3" filter="url(#blur1)"/>
  <!-- front band -->
  <path d="M1216,1215 C1216,1196 1222,1181 1236,1175 L1250,1171.5 L1306,1164.5 C1312,1163 1315,1159 1316.5,1153 C1317.5,1156 1318,1160 1318,1165 L1318,1220 C1318,1223 1315,1225 1310,1226 L1252,1236 C1243,1238 1237,1242 1232,1246 C1224,1240 1216,1230 1216,1215 Z" fill="url(#clampg)"/>
  <path d="M1216,1215 C1216,1196 1222,1181 1236,1175 L1250,1171.5 L1306,1164.5 C1312,1163 1315,1159 1316.5,1153 C1317.5,1156 1318,1160 1318,1165 L1318,1220 C1318,1223 1315,1225 1310,1226 L1252,1236 C1243,1238 1237,1242 1232,1246 C1224,1240 1216,1230 1216,1215 Z" fill="#888" filter="url(#noise)" opacity="0.35"/>
  <path d="M1250,1172 L1252,1236" stroke="#bdbdbd" stroke-width="1.2"/>
  <path d="M1236,1175 L1250,1171.5 L1306,1164.5" fill="none" stroke="#efefef" stroke-width="1.2"/>
  <ellipse cx="1229.6" cy="1211.2" rx="4.2" ry="9" fill="#1a1a1a"/>
  <!-- diagonal pipe -->
  <g clip-path="url(#cp4)">
    <path d="M1089,1283 C1120,1281 1175,1295 1210,1327 L1116,1575 L984,1575 Z" fill="url(#pdiag)"/>
  </g>
  <!-- cap 4 -->
  <path d="M1089.4,1281 L1111,1215 C1114,1207 1118,1204 1124,1202.5 L1165,1192.5 C1180,1190 1195,1195 1205,1203 L1221,1220 L1232.5,1245 C1235,1252 1235,1258 1233,1265 L1217.5,1322.5 C1216,1327 1212,1330 1207.5,1329 C1195,1312 1180,1300 1157.5,1292 C1140,1285 1115,1281 1092.5,1286 Z" fill="url(#cap4)"/>
  <path d="M1092,1284 C1118,1278 1160,1285 1207,1326" fill="none" stroke="#1e1e1e" stroke-width="2.5"/>
  <path d="M1110,1218 C1150,1205 1200,1205 1222,1222" fill="none" stroke="#5a5a5a" stroke-width="3" opacity="0.4" filter="url(#blur1)"/>
  <!-- bolt -->
  <path d="M1008,1164 L1066,1173.5 C1069,1174 1070.5,1178 1070.5,1182 C1070.5,1187 1068.5,1190.5 1065,1190.5 L1010,1182 Z" fill="#bdbdbd"/>
  <path d="M1010,1173 L1066,1182" stroke="#8e8e8e" stroke-width="16" stroke-dasharray="0.8 0.85" opacity="0.55"/>
  <path d="M1009,1166.5 L1066,1176" stroke="#e0e0e0" stroke-width="2.2" opacity="0.7"/>
  <path d="M1010,1180.5 L1065,1189" stroke="#9a9a9a" stroke-width="2.2" opacity="0.7"/>
  <ellipse cx="1066.8" cy="1182" rx="3.6" ry="7.6" fill="#cfcfcf"/>
  <path d="M992,1168 L1001.4,1155.4 L1008,1156 L1017.5,1162.5 L1013,1185 L1008.5,1188 L1000.3,1185.8 L992,1182 Z" fill="#d2d2d2"/>
  <path d="M992,1168 L1001.4,1155.4 L1008,1156 L1000.6,1166.6 Z" fill="#a6a6a6"/>
  <path d="M992,1168 L1000.6,1166.6 L1000.3,1185.8 L992,1182 Z" fill="#b4b4b4"/>
  <path d="M1003,1167 L1009,1158 L1016,1163.5 L1012,1183 L1008,1186 L1003,1184 Z" fill="#dedede"/>
  <!-- nut -->
  <path d="M1374,1221 L1386,1221.5 L1394,1226 L1397.5,1240 L1394,1254 L1386,1257.5 L1373,1254 L1368,1245 L1367.5,1232 Z" fill="#a6a6a6"/>
  <path d="M1374,1221 L1386,1221.5 L1382,1233 L1368,1232 Z" fill="#959595"/>
  <path d="M1385,1222 L1391,1223 L1396,1230 L1397.5,1242 L1395,1253 L1388,1257 L1380,1252 L1379,1240 L1380,1233 Z" fill="#e6e6e6"/>
  <ellipse cx="1389.5" cy="1239.5" rx="4.6" ry="10.3" fill="#8c8c8c"/>
  <!-- dashes -->
  <g stroke="#92117f" stroke-width="5.2">
    <line x1="1086" y1="1187.1" x2="1106" y2="1190.6"/>
    <line x1="1116" y1="1192.1" x2="1135" y2="1195.3"/>
    <line x1="1145" y1="1197.0" x2="1164" y2="1200.2"/>
    <line x1="1174" y1="1201.9" x2="1194" y2="1205.3"/>
    <line x1="1204" y1="1207.0" x2="1223" y2="1210.2"/>
    <line x1="1234" y1="1212.1" x2="1253" y2="1215.3"/>
    <line x1="1263" y1="1217.0" x2="1282" y2="1220.2"/>
    <line x1="1293" y1="1222.1" x2="1313" y2="1225.5"/>
    <line x1="1322" y1="1227.0" x2="1342" y2="1230.4"/>
    <line x1="1352" y1="1232.1" x2="1356" y2="1232.8"/>
  </g>
</g>

<g fill="#92117f">
  <circle cx="97" cy="87" r="47"/>
  <circle cx="902" cy="87" r="47"/>
  <circle cx="98" cy="887" r="47"/>
  <circle cx="902" cy="887" r="47"/>
</g>
<g fill="#ffffff">
  <path d="M88,73.5 L105.3,67.9 L105.3,105 L96,105 L96,78.5 L88,81 Z"/>
  <path d="M888.5,81 C888.5,73.5 894.5,68.3 902,68.3 C909.5,68.3 914.5,73.5 914.5,80.5 C914.5,85 912.5,88 910,91 L901.5,98.5 L915,98.5 L915,105 L889,105 L889,99 L903,85.5 C904.5,84 905.5,82.5 905.5,80.5 C905.5,77.5 904,75.5 901.5,75.5 C898.8,75.5 897,77.5 897,81 Z"/>
  <path d="M85,879 C85,872 90.5,867.5 97.8,867.5 C105,867.5 110,872 110,878.5 C110,882 108.5,884.5 106,886.5 C109,888.5 110.5,891.5 110.5,895 C110.5,901.5 105,905.8 97.8,905.8 C90,905.8 84.3,901 84.3,893.8 L93,893.8 C93,896.5 95,898.3 97.5,898.3 C100.3,898.3 102.3,896.5 102.3,894 C102.3,891.5 100.5,890 97.5,890 L92,890 L92,885.9 L97.5,885.9 C100.5,885.9 102.3,884.2 102.3,881.5 C102.3,877 100,875 97.4,875 C95,875 93.3,876.8 93.3,879 Z"/>
  <path fill-rule="evenodd" d="M902.8,867.9 L911,867.9 L911,890.5 L915.1,890.5 L915.1,897.2 L911,897.2 L911,905 L902.8,905 L902.8,897.2 L887.8,897.2 L887.8,891.5 Z M902.8,881 L896.5,890.5 L902.8,890.5 Z"/>
</g>

</svg>
</body></html>
